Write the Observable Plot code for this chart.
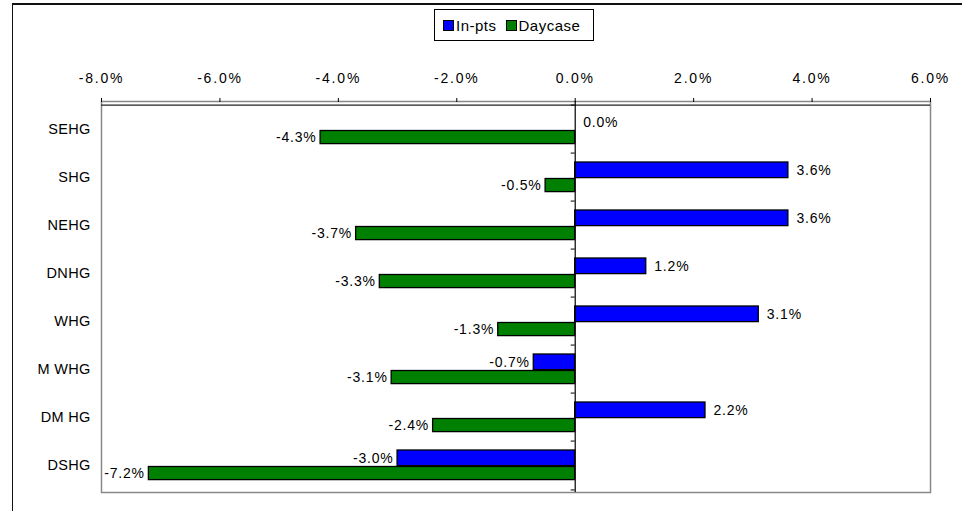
<!DOCTYPE html>
<html><head><meta charset="utf-8">
<script src="https://cdn.jsdelivr.net/npm/d3@7"></script>
<script src="https://cdn.jsdelivr.net/npm/@observablehq/plot@0.6"></script>
<style>
body{margin:0;background:#fff;}
#wrap{position:relative;width:962px;height:511px;overflow:hidden;font-family:"Liberation Sans",Arial,sans-serif;background:#fff;}
#outer{position:absolute;left:12px;top:3px;width:2000px;height:2000px;border-top:2px solid #111;border-left:1.5px solid #111;}
#chart svg{position:absolute;left:0;top:0;}
#legend{position:absolute;left:434px;top:9px;width:150px;height:30px;border:1px solid #000;background:#fff;display:flex;align-items:center;padding-left:8px;box-sizing:content-box;font-size:15px;letter-spacing:0.5px;color:#000;}
#legend .item{display:flex;align-items:center;margin-right:9px;}
#legend .sw{width:9px;height:9px;border:1px solid #000;margin-right:2px;}
g[aria-label="x-axis tick label"] text{letter-spacing:1.8px;}
g[aria-label="y-axis tick label"] text{letter-spacing:0.3px;}
g[aria-label="text"] text{letter-spacing:0.8px;}
</style></head>
<body><div id="wrap"><div id="outer"></div><div id="chart"></div><div id="legend"></div></div>
<script>
const categories = ["SEHG","SHG","NEHG","DNHG","WHG","M WHG","DM HG","DSHG"];
const inPts = [0.0, 3.6, 3.6, 1.2, 3.1, -0.7, 2.2, -3.0];
const daycase = [-4.3, -0.5, -3.7, -3.3, -1.3, -3.1, -2.4, -7.2];
const seriesNames = ["In-pts","Daycase"];
const seriesColors = ["#0000ff","#008000"];
const xTicks = [-8,-6,-4,-2,0,2,4,6];

const fmt = d => d.toFixed(1) + "%";
const W = 962, H = 511, mT = 101, mB = 19, mL = 101, mR = 32;
const bw = (H - mT - mB) / categories.length;

const inRows = categories.map((c,i) => ({cat:c, value:inPts[i]}));
const dayRows = categories.map((c,i) => ({cat:c, value:daycase[i]}));

const barStyle = {stroke:"#000", strokeWidth:1.3};
const plot = Plot.plot({
  width: W, height: H,
  marginTop: mT, marginBottom: mB, marginLeft: mL, marginRight: mR,
  style: {fontFamily:'"Liberation Sans",Arial,sans-serif', fontSize:"13px", color:"#000", background:"transparent"},
  x: {domain:[-8,6], axis:null},
  y: {domain:categories, padding:0, axis:null},
  marks: [
    Plot.frame({stroke:"#888", strokeWidth:1.5}),
    Plot.ruleY([categories[0]], {x1:-8, x2:6, dy:-bw/2, stroke:"#222", strokeWidth:1.3}),
    Plot.barX(inRows, {y:"cat", x:"value", fill:seriesColors[0], ...barStyle, insetTop:9, insetBottom:bw-25.5}),
    Plot.barX(dayRows, {y:"cat", x:"value", fill:seriesColors[1], ...barStyle, insetTop:25.5, insetBottom:9.4}),
    Plot.ruleX([0], {stroke:"#000", strokeWidth:1.2}),
    Plot.ruleY(categories, {x1:-0.068, x2:0, dy:-bw/2, stroke:"#000"}),
    Plot.ruleY([categories[categories.length-1]], {x1:-0.068, x2:0, dy:bw/2, stroke:"#000"}),
    Plot.text(inRows.filter(d => d.value >= 0), {x:"value", y:"cat", text:d => fmt(d.value), textAnchor:"start", dx:8, dy:-7.2, fontSize:14}),
    Plot.text(inRows.filter(d => d.value < 0), {x:"value", y:"cat", text:d => fmt(d.value), textAnchor:"end", dx:-4, dy:-7.2, fontSize:14}),
    Plot.text(dayRows.filter(d => d.value >= 0), {x:"value", y:"cat", text:d => fmt(d.value), textAnchor:"start", dx:8, dy:8, fontSize:14}),
    Plot.text(dayRows.filter(d => d.value < 0), {x:"value", y:"cat", text:d => fmt(d.value), textAnchor:"end", dx:-4, dy:8, fontSize:14}),
    Plot.axisX(xTicks, {anchor:"top", label:null, tickSize:4, tickPadding:15, tickFormat:fmt, fontSize:14}),
    Plot.axisY({anchor:"left", label:null, tickSize:0, tickPadding:11, fontSize:14.5})
  ]
});
document.getElementById("chart").appendChild(plot);

const legend = d3.select("#legend");
seriesNames.forEach((n,i) => {
  const it = legend.append("div").attr("class","item");
  it.append("div").attr("class","sw").style("background", seriesColors[i]);
  it.append("span").text(n);
});
</script>
</body></html>
